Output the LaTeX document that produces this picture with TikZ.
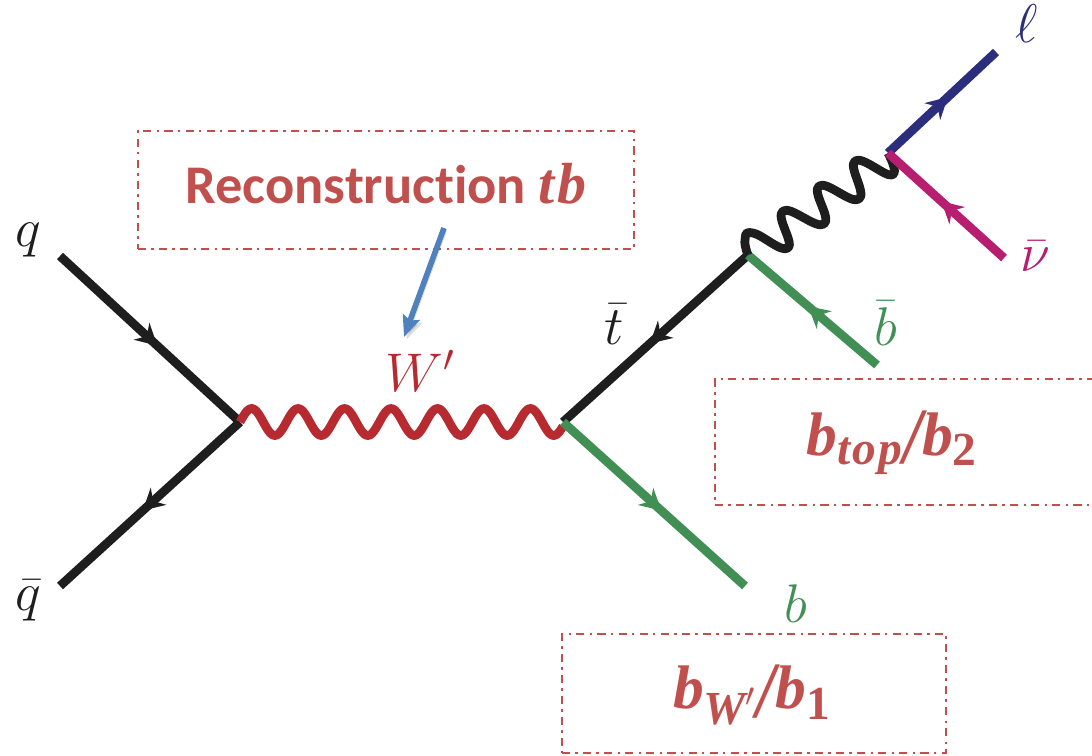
\documentclass[tikz,border=0pt]{standalone}
\usepackage{fix-cm}
\usepackage{amsmath,amssymb}
\usepackage{fontspec}
\usepackage{xcolor}
\usetikzlibrary{calc,arrows.meta,positioning,decorations.markings}
\newfontfamily\boxfont[Ligatures=NoCommon]{Carlito}
\newfontfamily\varfont[LetterSpace=5]{Liberation Serif}
\DeclareMathSizes{35}{35}{27}{19}
\definecolor{lineBlack}{RGB}{30,30,30}
\definecolor{bosonRed}{RGB}{183,43,48}
\definecolor{boxRed}{RGB}{192,80,77}
\definecolor{quarkGreen}{RGB}{66,143,85}
\definecolor{leptonBlue}{RGB}{43,46,125}
\definecolor{nuMagenta}{RGB}{184,30,112}
\definecolor{arrowBlue}{RGB}{79,129,189}
\newcommand{\bvar}[1]{\text{\varfont\bfseries\itshape #1}}
\newcommand{\bnum}[1]{\text{\varfont\bfseries #1}}
\newcommand{\bslash}{\raisebox{-.14em}{\scalebox{1.1}[1.3]{\bvar{/}}}}
\tikzset{
  fermion/.style={line width=5pt,postaction={decorate},decoration={markings,mark=at position #1 with {\arrow{Stealth[length=12pt,width=13pt,inset=4pt]}}}},
  boson/.style={line width=5pt,line join=round},
  dashBox/.style={draw=boxRed,line width=.8pt,dash pattern=on 4.6pt off 3pt on 1.4pt off 3pt,inner sep=0pt},
  boxLabel/.style={text=boxRed,font=\boxfont\bfseries\fontsize{31}{33}\selectfont,inner sep=0pt},
  varLabel/.style={text=boxRed,font=\fontsize{35}{37}\selectfont,inner sep=0pt},
  legLabel/.style={text=lineBlack,font=\fontsize{31}{33}\selectfont,inner sep=0pt}
}
\begin{document}
\begin{tikzpicture}[x=0.02cm,y=-0.02cm]
\useasboundingbox (0,0) rectangle (1092,755);
\coordinate (qIn) at (60,256);
\coordinate (qbarIn) at (60,586);
\coordinate (vtxL) at (240,422);
\coordinate (vtxR) at (563,422);
\coordinate (vtxTop) at (748,255);
\coordinate (vtxW) at (888,153);
\coordinate (bOut) at (745,586);
\coordinate (bbarOut) at (877,365);
\coordinate (lepOut) at (996,52);
\coordinate (nuOut) at (1004,258);
\coordinate (arrowFrom) at (444,228);
\coordinate (arrowTo) at (404,337);

\node[dashBox,minimum width=9.92cm,minimum height=2.36cm] (recoBox) at (386,190) {};
\node[dashBox,minimum width=7.6cm,minimum height=2.52cm] (topBox) at (905,442) {};
\node[dashBox,minimum width=7.68cm,minimum height=2.38cm] (wBox) at (754,693.5) {};

\draw[lineBlack,fermion=.54] (qIn) -- (vtxL);
\draw[lineBlack,fermion=.54] (vtxL) -- (qbarIn);
\draw[lineBlack,fermion=.53] (vtxTop) -- (vtxR);
\draw[bosonRed,boson,shift={(vtxL)}] plot[domain=0:323,samples=180,smooth] (\x,{-13.5*sin(\x*7.746)});
\draw[quarkGreen,fermion=.54] (vtxR) -- (bOut);
\draw[quarkGreen,fermion=.535] (bbarOut) -- (vtxTop);
\draw[leptonBlue,fermion=.555] (vtxW) -- (lepOut);
\draw[lineBlack,boson,smooth,tension=.8] plot coordinates {(vtxTop) (745,240) (753,233) (788,248) (783,211) (824,224) (819,186) (859,199) (855,161) (892,175) (vtxW)};
\draw[nuMagenta,fermion=.54] (nuOut) -- (vtxW);
\draw[arrowBlue,line width=3.2pt,-{Stealth[length=12pt,width=10pt,inset=2pt]},preaction={draw=black,fill=black,draw opacity=.12,fill opacity=.12,transform canvas={shift={(1.5pt,-1.5pt)}}}] (arrowFrom) -- (arrowTo);

\node[legLabel] (qLab) at (28,240) {$q$};
\node[legLabel] (qbarLab) at (28,601) {$\bar q$};
\node[legLabel] (tbarLab) at (614,324) {$\bar t$};
\node[legLabel,text=bosonRed] (wLab) at (420,371) {$W'$};
\node[legLabel,text=quarkGreen] (bLab) at (796,604) {$b$};
\node[legLabel,text=quarkGreen] (bbarLab) at (886,323) {$\bar b$};
\node[legLabel,text=leptonBlue] (lepLab) at (1027,24) {$\ell$};
\node[legLabel,text=nuMagenta] (nuLab) at (1035,256) {$\bar\nu$};

\node[boxLabel] (recoLabel) at (386,184) {Reconstruction {\fontsize{33}{35}\selectfont\bvar{tb}}};
\node[varLabel] (topLabel) at (892,443) {$\bvar{b}_{\bvar{top}}\bslash\bvar{b}_{\bnum{2}}$};
\node[varLabel] (wLabel) at (752,695) {$\bvar{b}_{\bvar{W}'}\bslash\bvar{b}_{\bnum{1}}$};
\end{tikzpicture}
\end{document}
